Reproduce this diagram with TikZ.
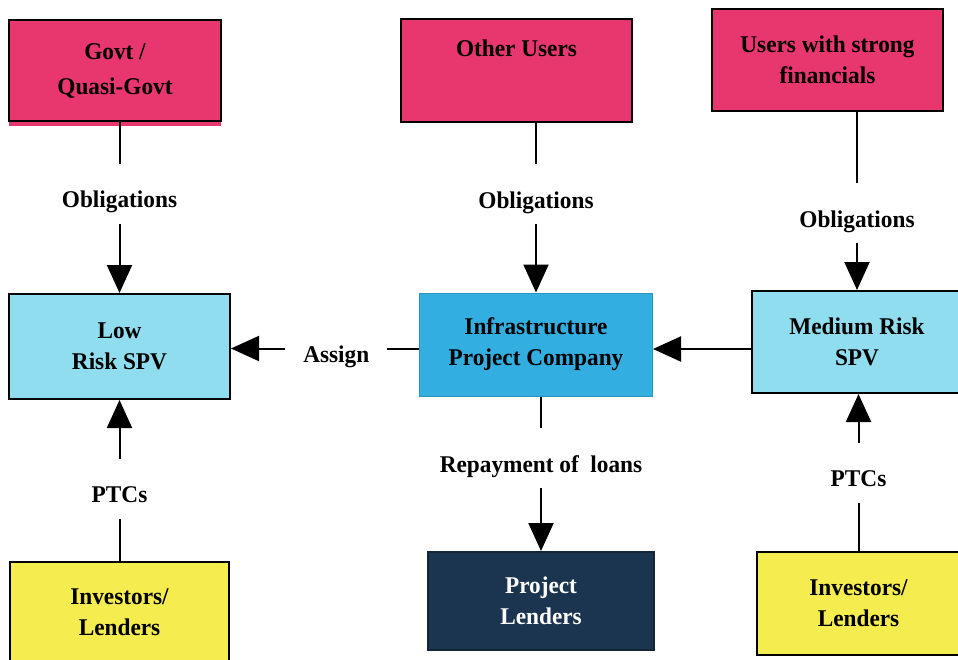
\documentclass[tikz,border=0pt]{standalone}
\usepackage{fontspec}
\setmainfont{Liberation Serif}[FakeStretch=0.97]
\usetikzlibrary{arrows.meta}
\definecolor{pinkc}{HTML}{E8366F}
\definecolor{spvc}{HTML}{8FDDEE}
\definecolor{infrac}{HTML}{33AEE0}
\definecolor{yellowc}{HTML}{F5EC50}
\definecolor{navyc}{HTML}{1B3550}
\begin{document}
\begin{tikzpicture}[x=1pt,y=-1pt,
  box/.style={draw=black, line width=2pt, align=center, inner sep=0pt,
    font=\fontsize{24}{31}\selectfont\bfseries},
  lbl/.style={fill=white, font=\fontsize{24}{31}\selectfont\bfseries,
    inner xsep=2pt, text height=30pt, text depth=2pt, inner ysep=14pt},
  conn/.style={line width=2pt, -{Triangle[width=25pt,length=28pt]}}]
\useasboundingbox (0,0) rectangle (958,659);
\fill[white] (0,0) rectangle (958,659);
% top row
\fill[pinkc] (9,26) rectangle (221,126);
\node[box, fill=pinkc, minimum width=212pt, minimum height=101pt] (govt) at (115,70.5) {Govt /\\[4pt]Quasi-Govt};
\node[box, fill=pinkc, minimum width=231pt, text height=37pt, text depth=66pt] (other) at (516.5,70.5) {Other Users};
\node[box, fill=pinkc, minimum width=231pt, minimum height=102pt] (strong) at (827.5,60) {Users with strong\\financials};
% middle row
\node[box, fill=spvc, minimum width=221pt, minimum height=105pt] (low) at (119.5,346.5) {Low\\Risk SPV};
\node[box, fill=infrac, draw=infrac!85!black, line width=1pt, minimum width=233pt, minimum height=103pt] (infra) at (536,344.5) {Infrastructure\\Project Company};
\node[box, fill=spvc, minimum width=210pt, minimum height=102pt] (medium) at (857,342) {Medium Risk\\SPV};
% bottom row
\node[box, fill=navyc, draw=navyc!70!black, text=white, minimum width=226pt, minimum height=98pt] (proj) at (541,601) {Project\\Lenders};
\node[box, fill=yellowc, minimum width=219pt, minimum height=100pt] (invL) at (119.5,612) {Investors/\\Lenders};
\node[box, fill=yellowc, minimum width=203pt, minimum height=103pt] (invR) at (858.5,603.5) {Investors/\\Lenders};
% connectors
\draw[conn] (low.north |- govt.south) -- node[lbl, pos=0.42] {Obligations} (low.north);
\draw[conn] (infra.north |- other.south) -- node[lbl, pos=0.42] {Obligations} (infra.north);
\draw[conn] (medium.north |- strong.south) -- node[lbl, pos=0.57] {Obligations} (medium.north);
\draw[conn] ([yshift=-4pt]infra.west) -- node[lbl, pos=0.44, inner xsep=18pt, inner ysep=2pt, text height=17pt, text depth=5pt, yshift=-8pt] {Assign} ([yshift=-4pt]low.east |- infra.west);
\draw[conn] ([yshift=-7pt]medium.west) -- ([yshift=-7pt]infra.east |- medium.west);
\draw[conn] (proj.north |- infra.south) -- node[lbl, pos=0.4] {Repayment of\ \ loans} (proj.north);
\draw[conn] (invR.north) -- node[lbl, pos=0.5] {PTCs} (invR.north |- medium.south);
\draw[conn] (invL.north) -- node[lbl, pos=0.45] {PTCs} (invL.north |- low.south);
\end{tikzpicture}
\end{document}
